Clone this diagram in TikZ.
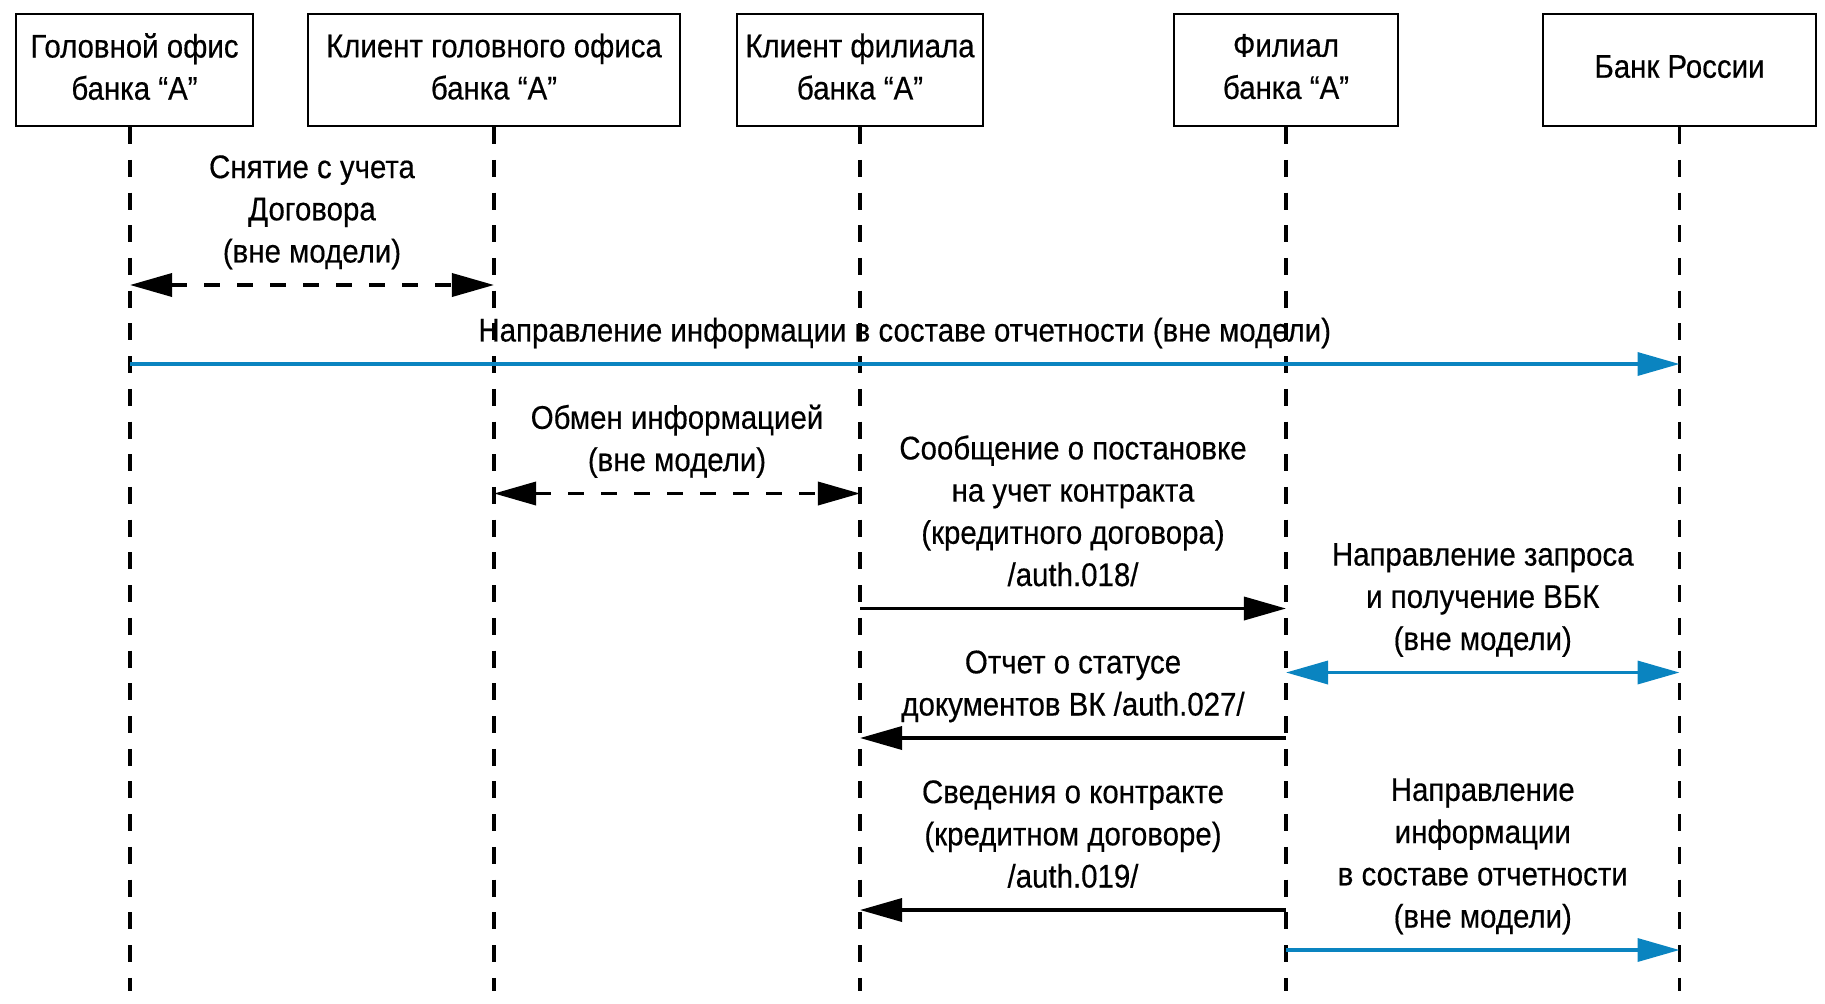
\documentclass[tikz,border=0pt]{standalone}
\usepackage{fontspec}
\setmainfont{Liberation Sans}[FakeStretch=0.9,FakeBold=0.4]
\usetikzlibrary{arrows.meta}

\definecolor{cbrblue}{RGB}{10,132,192}

\tikzset{
  actor/.style={draw=black,line width=0.6pt,align=center,inner sep=0pt,minimum height=1.12cm,
    execute at end node={\rule[-2pt]{0pt}{2pt}}},
  lifeline/.style={draw=black,line width=1pt,dash pattern=on 0.17cm off 0.157cm},
  msg/.style={draw=black,line width=1pt,-{Triangle[length=0.42cm,width=0.23cm]}},
  twoway/.style={msg,{Triangle[length=0.42cm,width=0.23cm]}-{Triangle[length=0.42cm,width=0.23cm]}},
  outside/.style={dash pattern=on 0.16cm off 0.17cm},
  report/.style={draw=cbrblue},
  lbl/.style={above=2.3pt,inner sep=0pt,align=center,execute at end node=\strut}
}

\begin{document}
\begin{tikzpicture}[x=0.01cm,y=-0.01cm,font=\fontsize{9.3}{12}\selectfont]
   \useasboundingbox (0,0) rectangle (1825,1003);
   \begin{scope}[every node/.style={actor}]
    \node[minimum width=2.37cm] (ho) at (134.5,70) {Головной офис\\банка ``A''};
    \node[minimum width=3.71cm] (hoc) at (494,70) {Клиент головного офиса\\банка ``A''};
    \node[minimum width=2.46cm] (brc) at (860,70) {Клиент филиала\\банка ``A''};
    \node[minimum width=2.245cm] (br) at (1286,70) {Филиал\\банка ``A''};
    \node[minimum width=2.73cm] (cbr) at (1679.5,70) {Банк России};
   \end{scope}
   % lifelines
   \coordinate (ho-top) at ([xshift=-0.045cm]ho.south);
   \foreach \n in {hoc,brc,br,cbr}
    \coordinate (\n-top) at (\n.south);
   \foreach \n in {ho,hoc,brc,br,cbr} {
    \coordinate (\n-end) at (\n-top |- 0,991);
    \draw[lifeline] (\n-top) -- (\n-end);
   }
   % message ends on the lifelines
   \coordinate (ho-1) at (ho-top |- 0,285);
   \coordinate (hoc-1) at (hoc-top |- 0,285);
   \coordinate (ho-2) at (ho-top |- 0,364);
   \coordinate (cbr-2) at (cbr-top |- 0,364);
   \coordinate (hoc-3) at (hoc-top |- 0,493.5);
   \coordinate (brc-3) at (brc-top |- 0,493.5);
   \coordinate (brc-4) at (brc-top |- 0,608.5);
   \coordinate (br-4) at (br-top |- 0,608.5);
   \coordinate (br-5) at (br-top |- 0,672.5);
   \coordinate (cbr-5) at (cbr-top |- 0,672.5);
   \coordinate (br-6) at (br-top |- 0,738);
   \coordinate (brc-6) at (brc-top |- 0,738);
   \coordinate (br-7) at (br-top |- 0,910);
   \coordinate (brc-7) at (brc-top |- 0,910);
   \coordinate (br-8) at (br-top |- 0,950);
   \coordinate (cbr-8) at (cbr-top |- 0,950);
   \begin{scope}
    \draw (ho-1) edge[twoway,outside] node[lbl]{Снятие с учета\\Договора\\(вне модели)} (hoc-1);
    \draw (ho-2) edge[msg,report] node[lbl]{Направление информации в составе отчетности (вне модели)} (cbr-2);
    \draw (hoc-3) edge[twoway,outside] node[lbl]{Обмен информацией\\(вне модели)} (brc-3);
    \draw (brc-4) edge[msg] node[lbl]{Сообщение о постановке\\на учет контракта\\(кредитного договора)\\/auth.018/} (br-4);
    \draw (br-5) edge[twoway,report] node[lbl]{Направление запроса\\и получение ВБК\\(вне модели)} (cbr-5);
    \draw (br-6) edge[msg] node[lbl]{Отчет о статусе\\документов ВК /auth.027/} (brc-6);
    \draw (br-7) edge[msg] node[lbl]{Сведения о контракте\\(кредитном договоре)\\/auth.019/} (brc-7);
    \draw (br-8) edge[msg,report] node[lbl]{Направление\\информации\\в составе отчетности\\(вне модели)} (cbr-8);
   \end{scope}
\end{tikzpicture}
\end{document}
